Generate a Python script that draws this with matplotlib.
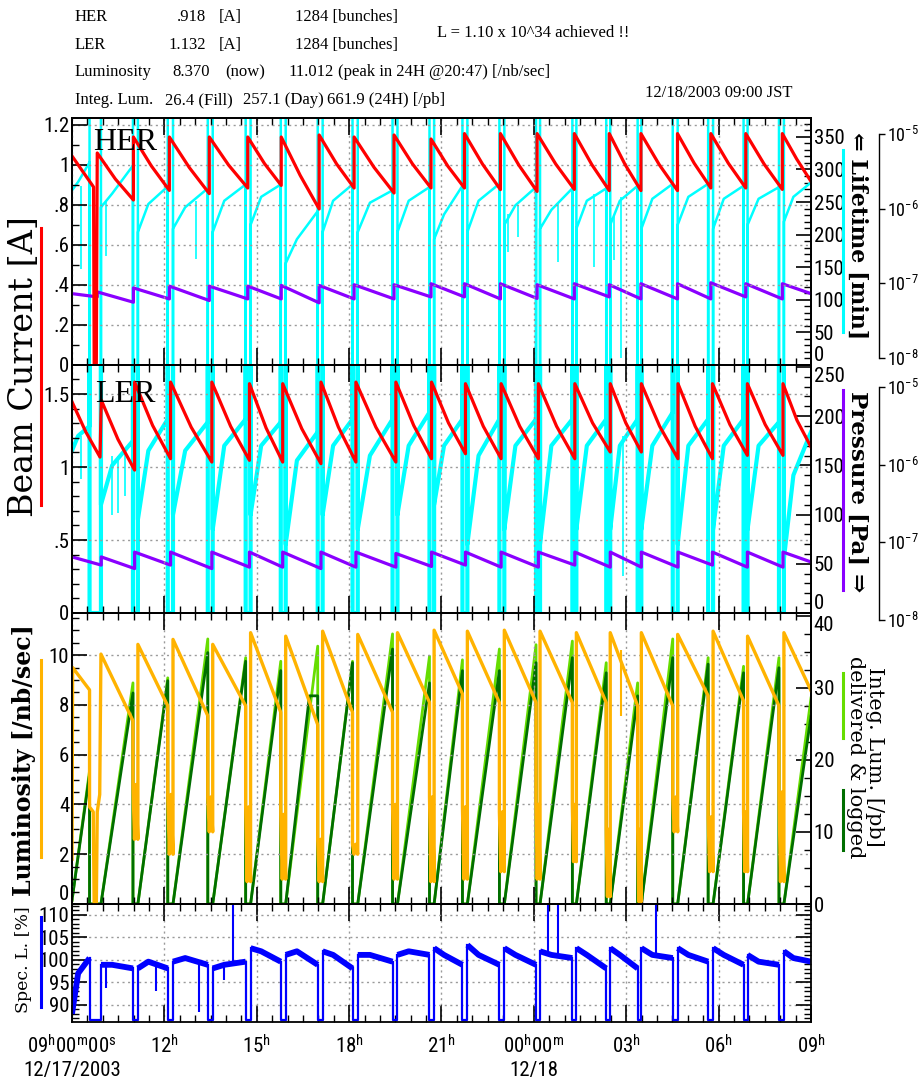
import matplotlib
matplotlib.use("Agg")
import bisect
import matplotlib.pyplot as plt
from matplotlib import font_manager
from matplotlib.lines import Line2D
from matplotlib.ticker import MultipleLocator, NullLocator

# ---------------- data (hours after 09:00 12/17/2003) ----------------
GAP_START = [0.57, 1.98, 3.11, 4.41, 5.64, 6.78, 7.98, 9.11, 10.41, 11.61, 12.68,
             13.88, 15.07, 16.25, 17.35, 18.37, 19.51, 20.66, 21.81, 22.96]
GAP_END = [0.94, 2.14, 3.28, 4.57, 5.80, 6.94, 8.14, 9.28, 10.57, 11.76, 12.84,
           14.04, 15.20, 16.38, 17.48, 18.49, 19.67, 20.82, 21.94, 23.12]

# HER beam current [A]
HER_PRE_T = [0.0, 0.70, 0.72, 0.79]
HER_PRE_A = [1.045, 0.89, 0.0, 0.0]
HER_INJ = [0.82, 1.995, 3.162, 4.459, 5.708, 6.795, 8.027, 9.162, 10.459, 11.659,
           12.746, 13.914, 15.104, 16.314, 17.449, 18.477, 19.664, 20.747, 21.882, 23.069]
HER_PEAK = [1.06, 1.14, 1.14, 1.14, 1.14, 1.14, 1.15, 1.14, 1.15, 1.13,
            1.157, 1.157, 1.157, 1.157, 1.157, 1.157, 1.157, 1.157, 1.157, 1.157]
HER_MID = [0.93, 0.995, 0.987, 1.0, 1.007, 0.948, 1.005, 0.988, 1.005, 0.995,
           1.005, 1.0, 1.005, 1.002, 1.002, 1.002, 1.009, 1.009, 1.005, 1.03]
HER_LOW = [0.825, 0.873, 0.857, 0.885, 0.898, 0.78, 0.885, 0.86, 0.885, 0.885,
           0.877, 0.868, 0.878, 0.872, 0.872, 0.872, 0.885, 0.885, 0.878, 0.918]

# LER beam current [A]
LER_PRE_T = [0.0, 0.45, 0.91]
LER_PRE_A = [1.447, 1.24, 1.068]
LER_INJ = [0.95, 2.034, 3.201, 4.541, 5.763, 6.843, 8.085, 9.22, 10.518, 11.676,
           12.778, 13.936, 15.146, 16.33, 17.481, 18.49, 19.68, 20.799, 21.934, 23.09]
LER_PEAK = [1.459, 1.582, 1.582, 1.582, 1.571, 1.571, 1.582, 1.582, 1.582, 1.582,
            1.571, 1.571, 1.571, 1.571, 1.571, 1.571, 1.571, 1.571, 1.571, 1.571]
LER_MID = [1.19, 1.285, 1.273, 1.279, 1.268, 1.262, 1.273, 1.273, 1.285, 1.302,
           1.279, 1.279, 1.279, 1.302, 1.302, 1.279, 1.279, 1.291, 1.291, 1.32]
LER_LOW = [0.979, 1.057, 1.034, 1.046, 1.034, 1.023, 1.034, 1.034, 1.057, 1.091,
           1.057, 1.057, 1.057, 1.103, 1.103, 1.057, 1.057, 1.08, 1.08, 1.137]

# Pressure [Pa]
HER_P_PRE_T = [0.0, 0.82]
HER_P_PRE = [7.3e-8, 6.6e-8]
HER_P_PEAK = [7.7e-8, 8.7e-8, 9.2e-8, 9.2e-8, 9.2e-8, 9.4e-8, 9.4e-8, 9.6e-8, 9.6e-8, 9.9e-8,
              9.9e-8, 9.9e-8, 9.6e-8, 9.9e-8, 9.6e-8, 9.9e-8, 9.9e-8, 1.02e-7, 9.9e-8, 9.9e-8]
HER_P_LOW = [5.6e-8, 6.2e-8, 5.9e-8, 6.2e-8, 6.2e-8, 5.5e-8, 6.2e-8, 6.2e-8, 6.6e-8, 6.6e-8,
             6.2e-8, 6.3e-8, 6.2e-8, 6.6e-8, 6.2e-8, 6.2e-8, 6.2e-8, 6.6e-8, 6.2e-8, 7.3e-8]
LER_P_PRE_T = [0.0, 0.95]
LER_P_PRE = [6.5e-8, 5.1e-8]
LER_P_PEAK = [6.5e-8, 7.5e-8, 7.5e-8, 7.5e-8, 7.5e-8, 7.5e-8, 7.5e-8, 7.5e-8, 7.2e-8, 7.5e-8,
              7.5e-8, 7.5e-8, 7.5e-8, 7.5e-8, 7.5e-8, 7.5e-8, 7.5e-8, 7.5e-8, 7.5e-8, 7.5e-8]
LER_P_LOW = [4.6e-8, 5.1e-8, 4.6e-8, 4.8e-8, 4.8e-8, 4.6e-8, 4.8e-8, 4.8e-8, 4.9e-8, 5.1e-8,
             4.8e-8, 4.8e-8, 5.1e-8, 4.8e-8, 4.8e-8, 4.8e-8, 5.1e-8, 4.8e-8, 4.8e-8, 5.6e-8]

# Lifetime [min] per fill: start / mid / end
HER_LT_START = [268, 242, 204, 209, 204, 215, 156, 204, 204, 204, 193,
                204, 215, 209, 209, 215, 209, 215, 209, 215, 220]
HER_LT_MID = [281, 263, 247, 242, 252, 258, 193, 252, 249, 252, 231,
              252, 245, 238, 252, 252, 255, 258, 255, 255, 258]
HER_LT_END = [311, 306, 274, 271, 277, 277, 236, 277, 268, 273, 275,
              278, 273, 271, 271, 275, 278, 278, 275, 273, 280]
HER_LT_DIP_T = [0.30, 1.11, 4.03, 14.15, 14.48, 15.77, 16.96, 17.61, 17.83]
HER_LT_DIP_LO = [148, 168, 163, 173, 197, 158, 150, 161, 10]
HER_LT_DIP_HI = [274, 252, 252, 231, 245, 249, 263, 228, 258]

LER_LT_START = [165, 110, 95, 100, 85, 100, 70, 100, 85, 100, 110,
                70, 85, 70, 85, 85, 85, 70, 85, 85, 55]
LER_LT_MID = [180, 150, 165, 165, 170, 170, 155, 170, 160, 170, 170,
              160, 170, 170, 170, 170, 170, 170, 170, 170, 140]
LER_LT_END = [190, 175, 197, 194, 197, 194, 184, 197, 197, 204, 197,
              197, 197, 197, 197, 197, 204, 197, 197, 194, 184]
LER_LT_DIP_T = [0.30, 1.30, 1.49, 1.71, 17.88]
LER_LT_DIP_LO = [136, 100, 102, 119, 38]
LER_LT_DIP_HI = [180, 160, 160, 165, 180]

# Luminosity [/nb/sec]
LUM_FIRST_T = [0.0]
LUM_FIRST_V = [1.8]
LUM_START = [9.5, 10.04, 10.43, 10.63, 10.43, 10.9, 10.76, 10.96, 10.83, 10.9, 11.0,
             10.96, 11.0, 10.96, 10.9, 10.9, 10.9, 10.83, 10.96, 10.76, 10.9]
LUM_END = [8.6, 7.36, 7.96, 7.56, 7.96, 7.7, 7.2, 7.7, 7.7, 8.1, 8.44,
           8.09, 8.09, 8.09, 8.09, 7.96, 7.96, 8.36, 8.16, 7.96, 8.57]
LUM_GAP_A = [3.9, 4.8, 4.4, 4.3, 3.9, 3.6, 2.6, 2.4, 4.0, 4.3,
             3.9, 3.7, 4.0, 4.0, 3.0, 3.0, 4.3, 3.5, 3.7, 4.5]
LUM_GAP_B = [0.0, 2.6, 2.0, 2.9, 0.9, 1.0, 0.9, 2.0, 1.0, 0.9,
             1.0, 1.3, 1.0, 1.7, 0.3, 0.1, 2.9, 1.3, 1.3, 0.9]
LUM_ABORT_T = [0.69, 0.72, 0.79, 0.82, 0.90]
LUM_ABORT_V = [3.7, 0.0, 0.0, 3.7, 4.4]
LUM_DIP_T = [17.83]
LUM_DIP_LO = [7.56]
LUM_DIP_HI = [10.2]

# Integrated luminosity [/pb] at end of each fill
INT_FIRST = 0.5
INT_DEL_END = [18.5, 30.7, 31.4, 36.8, 34.2, 33.7, 35.8, 33.7, 37.5, 34.4, 33.9,
               35.4, 36.0, 36.5, 33.5, 30.7, 36.8, 34.2, 33.0, 34.2, 28.6]
INT_LOG_END = [18.0, 29.3, 31.0, 34.9, 33.7, 32.4, 28.9, 33.5, 35.4, 30.7, 32.4,
               32.4, 33.5, 34.2, 32.1, 28.9, 34.2, 33.3, 32.1, 32.8, 26.1]
INT_LOG_HOLD_T = 7.71
INT_LOG_HOLD_V = 28.9

# Specific luminosity [%]
SPEC_START = [88.0, 98.9, 98.1, 99.6, 98.1, 102.6, 101.1, 101.9, 101.1, 101.1, 102.6,
              103.3, 102.6, 101.9, 102.6, 102.6, 102.6, 102.6, 102.6, 101.1, 101.9]
SPEC_MID = [97.0, 98.9, 99.6, 100.4, 98.9, 101.9, 101.9, 101.1, 101.1, 101.9, 101.1,
            101.1, 101.1, 101.1, 101.1, 101.1, 101.1, 101.1, 101.1, 99.6, 100.4]
SPEC_END = [100.4, 98.1, 98.1, 98.9, 99.6, 99.6, 98.9, 98.1, 99.6, 101.1, 98.9,
            98.9, 98.9, 100.4, 98.1, 98.1, 100.4, 99.6, 98.9, 98.9, 99.6]
SPEC_FLOOR = 86.6
SPEC_SPIKE_T = [5.23, 15.45, 15.77, 18.96]
SPEC_SPIKE_LO = [99.5, 101.0, 101.0, 101.0]
SPEC_SPIKE_HI = 114.0
SPEC_DIP_T = [1.11, 2.73, 4.14, 4.95]
SPEC_DIP_LO = [93.7, 93.0, 88.5, 95.5]
SPEC_DIP_HI = [98.5, 99.0, 99.5, 98.5]

XTICK_LABELS = [r"$\mathregular{09^{h}00^{m}00^{s}}$" + "\n12/17/2003",
                r"$\mathregular{12^{h}}$", r"$\mathregular{15^{h}}$",
                r"$\mathregular{18^{h}}$", r"$\mathregular{21^{h}}$",
                r"$\mathregular{00^{h}00^{m}}$" + "\n12/18",
                r"$\mathregular{03^{h}}$", r"$\mathregular{06^{h}}$",
                r"$\mathregular{09^{h}}$"]

# ---------------- fonts ----------------
_names = {f.name for f in font_manager.fontManager.ttflist}


def pick(*cands):
    for c in cands:
        if c in _names:
            return c
    return "DejaVu Sans"


NARROW = pick("Liberation Sans Narrow", "Roboto Condensed", "DejaVu Sans")
SERIF = pick("Liberation Serif", "DejaVu Serif")
WSERIF = ["DejaVu Serif", "DejaVu Sans"]
plt.rcParams["font.family"] = [NARROW, "DejaVu Sans"]

# ---------------- builders ----------------
NF = len(GAP_START) + 1


def fill_span(k):
    s = 0.0 if k == 0 else GAP_END[k - 1]
    e = 24.0 if k == NF - 1 else GAP_START[k]
    return s, e


def build_inj(pre_t, pre_v, inj, peak, mid, low, t_end=24.0):
    t, v = list(pre_t), list(pre_v)
    for k, t0 in enumerate(inj):
        t1 = inj[k + 1] if k + 1 < len(inj) else t_end
        if k > 0:
            t.append(t0); v.append(low[k - 1])
        t.append(t0); v.append(peak[k])
        if mid is not None:
            t.append(0.5 * (t0 + t1)); v.append(mid[k])
    t.append(t_end); v.append(low[-1])
    return t, v


def build_lifetime(start, mid, end, top, flat_bottom):
    t, v = [], []
    for k in range(NF):
        s, e = fill_span(k)
        t += [s, s + 0.35 * (e - s), e]
        v += [start[k], mid[k], end[k]]
        if k < NF - 1:
            g0, g1 = GAP_START[k], GAP_END[k]
            t += [g0, g0, g1, g1]
            v += ([top, 0, 0, top] if flat_bottom else [0, top, top, 0])
    return t, v


def build_lum():
    t, v = list(LUM_FIRST_T), list(LUM_FIRST_V)
    for k in range(NF):
        s, e = fill_span(k)
        if k == 0:
            s = 0.02
        t += [s, e]
        v += [LUM_START[k], LUM_END[k]]
        if k < NF - 1:
            g0, g1 = GAP_START[k], GAP_END[k]
            if k == 0:
                t += [g0] + LUM_ABORT_T
                v += [LUM_GAP_A[0]] + LUM_ABORT_V
            else:
                gl = g1 - g0
                t += [g0, g0 + 0.3 * gl, g0 + 0.6 * gl, g1]
                v += [LUM_GAP_A[k], LUM_GAP_B[k], LUM_GAP_A[k], LUM_GAP_B[k]]
    return t, v


def build_int(end_vals):
    t, v = [], []
    for k in range(NF):
        s, e = fill_span(k)
        t += [s, e]
        v += [INT_FIRST if k == 0 else 0.0, end_vals[k]]
        if k < NF - 1:
            t += [GAP_START[k], GAP_END[k]]
            v += [0.0, 0.0]
    return t, v


def build_spec_parts():
    fills, gaps = [], []
    for k in range(NF):
        s, e = fill_span(k)
        fills.append(([s, s + 0.35 * (e - s), e], [SPEC_START[k], SPEC_MID[k], SPEC_END[k]]))
        if k < NF - 1:
            g0, g1 = GAP_START[k], GAP_END[k]
            gaps.append(([g0, g0, g1, g1],
                         [SPEC_END[k], SPEC_FLOOR, SPEC_FLOOR, SPEC_START[k + 1]]))
    return fills, gaps


# ---------------- figure ----------------
W, H = 920, 1087
fig = plt.figure(figsize=(W / 100, H / 100), dpi=100, facecolor="white")
XL, XR = 72, 811


def add_ax(top, bot, **kw):
    return fig.add_axes([XL / W, 1 - bot / H, (XR - XL) / W, (bot - top) / H], **kw)


ax1 = add_ax(118, 365)
ax2 = add_ax(365, 613, sharex=ax1)
ax3 = add_ax(613, 904, sharex=ax1)
ax4 = add_ax(904, 1022, sharex=ax1)
ax1r, ax1p = ax1.twinx(), ax1.twinx()
ax2r, ax2p = ax2.twinx(), ax2.twinx()
ax3r = ax3.twinx()

for a in (ax1, ax2, ax3, ax4, ax1r, ax1p, ax2r, ax2p, ax3r):
    a.patch.set_visible(False)
    for sp in a.spines.values():
        sp.set_linewidth(1.3)
for base, tw in ((ax1, ax1r), (ax2, ax2r), (ax3, ax3r)):
    tw.set_zorder(0)
    base.set_zorder(3)
ax1p.set_zorder(1)
ax2p.set_zorder(1)
ax1p.axis("off")
ax2p.axis("off")

ax1.set_xlim(0, 24)
ax1.xaxis.set_major_locator(MultipleLocator(3))
ax1.xaxis.set_minor_locator(MultipleLocator(0.5))

RED, CYAN, PURP = "#ff0000", "#00ffff", "#8a00ff"
ORNG, LGRN, DGRN, BLUE = "#ffb300", "#66dd00", "#006e00", "#0000ff"

# panel 1 HER
t, v = build_lifetime(HER_LT_START, HER_LT_MID, HER_LT_END, 420, False)
ax1r.plot(t, v, color=CYAN, lw=1.8)
ax1r.vlines(HER_LT_DIP_T, HER_LT_DIP_LO, HER_LT_DIP_HI, color=CYAN, lw=1.2)
t, v = build_inj(HER_P_PRE_T, HER_P_PRE, HER_INJ, HER_P_PEAK, None, HER_P_LOW)
ax1p.plot(t, v, color=PURP, lw=2.3)
t, v = build_inj(HER_PRE_T, HER_PRE_A, HER_INJ, HER_PEAK, HER_MID, HER_LOW)
ax1.plot(t, v, color=RED, lw=2.3)
ax1.set_ylim(0, 1.235)
ax1r.set_ylim(0, 379)
ax1p.set_yscale("log")
ax1p.set_ylim(10 ** -8.092, 10 ** -4.786)

# panel 2 LER
t, v = build_lifetime(LER_LT_START, LER_LT_MID, LER_LT_END, 300, True)
ax2r.plot(t, v, color=CYAN, lw=3.0)
ax2r.vlines(LER_LT_DIP_T, LER_LT_DIP_LO, LER_LT_DIP_HI, color=CYAN, lw=1.2)
t, v = build_inj(LER_P_PRE_T, LER_P_PRE, LER_INJ, LER_P_PEAK, None, LER_P_LOW)
ax2p.plot(t, v, color=PURP, lw=2.3)
t, v = build_inj(LER_PRE_T, LER_PRE_A, LER_INJ, LER_PEAK, LER_MID, LER_LOW)
ax2.plot(t, v, color=RED, lw=2.3)
ax2.set_ylim(0, 1.699)
ax2r.set_ylim(0, 252)
ax2p.set_yscale("log")
ax2p.set_ylim(10 ** -7.909, 10 ** -4.717)

# panel 3 luminosity
t, v = build_int(INT_DEL_END)
ax3r.plot(t, v, color=LGRN, lw=2.0)
t, v = build_int(INT_LOG_END)
i = bisect.bisect_right(t, INT_LOG_HOLD_T)
t.insert(i, INT_LOG_HOLD_T)
v.insert(i, INT_LOG_HOLD_V)
ax3r.plot(t, v, color=DGRN, lw=2.0)
t, v = build_lum()
ax3.plot(t, v, color=ORNG, lw=2.4)
ax3.vlines(LUM_DIP_T, LUM_DIP_LO, LUM_DIP_HI, color=ORNG, lw=1.5)
ax3.set_ylim(0, 11.69)
ax3r.set_ylim(0, 40.4)

# panel 4 spec. lum.
fills, gaps = build_spec_parts()
for ft, fv in fills:
    ax4.plot(ft, fv, color=BLUE, lw=4.2, solid_capstyle="butt")
for gt, gv in gaps:
    ax4.plot(gt, gv, color=BLUE, lw=1.6)
ax4.vlines(SPEC_SPIKE_T, SPEC_SPIKE_LO, SPEC_SPIKE_HI, color=BLUE, lw=1.5)
ax4.vlines(SPEC_DIP_T, SPEC_DIP_LO, SPEC_DIP_HI, color=BLUE, lw=1.5)
ax4.set_ylim(86.2, 112.4)

# ---------------- ticks & grids ----------------
GRID = dict(color="#9a9a9a", ls=(0, (1.5, 2.5)), lw=1.0)
for a in (ax1, ax2, ax3, ax4):
    a.tick_params(axis="x", which="both", direction="in", top=True, bottom=True,
                  labelbottom=False)
    a.tick_params(axis="x", which="major", length=12, width=1.2)
    a.tick_params(axis="x", which="minor", length=5, width=1.0)
    a.tick_params(axis="y", which="both", direction="in", left=True, right=False,
                  labelsize=15, pad=2)
    a.tick_params(axis="y", which="major", length=11, width=1.2)
    a.tick_params(axis="y", which="minor", length=5, width=1.0)
    a.grid(True, which="major", **GRID)
    a.set_axisbelow(True)

ax1.set_yticks([0, 0.2, 0.4, 0.6, 0.8, 1.0, 1.2], ["0", ".2", ".4", ".6", ".8", "1", "1.2"])
ax1.yaxis.set_minor_locator(MultipleLocator(0.1))
ax2.set_yticks([0, 0.5, 1.0, 1.5], ["0", ".5", "1", "1.5"])
ax2.yaxis.set_minor_locator(MultipleLocator(0.1))
ax3.set_yticks([0, 2, 4, 6, 8, 10], ["0", "2", "4", "6", "8", "10"])
ax3.yaxis.set_minor_locator(MultipleLocator(0.5))
ax4.set_yticks([90, 95, 100, 105, 110])
ax4.yaxis.set_minor_locator(MultipleLocator(1))
ax4.tick_params(axis="y", which="both", right=True, labelright=False)

for tw, ticks, mnr in ((ax1r, list(range(0, 351, 50)), 10),
                       (ax2r, list(range(0, 251, 50)), 10),
                       (ax3r, [0, 10, 20, 30, 40], 2.5)):
    tw.set_yticks(ticks)
    tw.yaxis.set_minor_locator(MultipleLocator(mnr))
    tw.tick_params(axis="y", which="both", direction="in", right=True, left=False,
                   labelsize=15, pad=2)
    tw.tick_params(axis="y", which="major", length=11, width=1.2)
    tw.tick_params(axis="y", which="minor", length=5, width=1.0)

ax4.set_xticks(list(range(0, 25, 3)), XTICK_LABELS)
ax4.tick_params(axis="x", labelbottom=True, labelsize=15, pad=9)
ax1.set_xlim(0, 24)


def label_va(ax, idx, va):
    tk = ax.yaxis.get_major_ticks()[idx]
    tk.label1.set_va(va)
    tk.label2.set_va(va)


# keep edge labels of stacked panels from colliding
label_va(ax1r, 0, "bottom")
label_va(ax2r, -1, "top")
label_va(ax2r, 0, "bottom")
label_va(ax3r, -1, "top")
label_va(ax3, 0, "bottom")

# far-right log pressure scales
LOGLAB = [r"$\mathregular{10^{-8}}$", r"$\mathregular{10^{-7}}$",
          r"$\mathregular{10^{-6}}$", r"$\mathregular{10^{-5}}$"]
for top, bot in ((134, 358), (387, 620)):
    la = fig.add_axes([878 / W, 1 - bot / H, 1.0 / W, (bot - top) / H])
    la.patch.set_visible(False)
    for s in ("left", "top", "bottom"):
        la.spines[s].set_visible(False)
    la.spines["right"].set_linewidth(1.0)
    la.set_yscale("log")
    la.set_ylim(1e-8, 1e-5)
    la.set_xticks([])
    la.yaxis.tick_right()
    la.set_yticks([1e-8, 1e-7, 1e-6, 1e-5], LOGLAB)
    la.yaxis.set_minor_locator(NullLocator())
    la.tick_params(axis="y", direction="out", length=4, width=1.0, labelsize=13, pad=2)

# ---------------- text ----------------
def ftext(x, y, s, **kw):
    return fig.text(x / W, 1 - y / H, s, **kw)


HDR = dict(family=[SERIF, "DejaVu Serif"], fontsize=12, va="center")
ftext(75, 17, "HER", ha="left", **HDR)
ftext(206, 17, ".918", ha="right", **HDR)
ftext(219, 17, "[A]", ha="left", **HDR)
ftext(295, 17, "1284 [bunches]", ha="left", **HDR)
ftext(75, 45, "LER", ha="left", **HDR)
ftext(206, 45, "1.132", ha="right", **HDR)
ftext(219, 45, "[A]", ha="left", **HDR)
ftext(295, 45, "1284 [bunches]", ha="left", **HDR)
ftext(437, 33, "L = 1.10 x 10^34 achieved !!", ha="left", **HDR)
ftext(75, 72, "Luminosity", ha="left", **HDR)
ftext(172, 72, "8.370", ha="left", **HDR)
ftext(225, 72, "(now)", ha="left", **HDR)
ftext(288, 72, "11.012", ha="left", **HDR)
ftext(338, 72, "(peak in 24H @20:47) [/nb/sec]", ha="left", **HDR)
ftext(75, 100, "Integ. Lum.", ha="left", **HDR)
ftext(165, 100, "26.4 (Fill)", ha="left", **HDR)
ftext(243, 100, "257.1 (Day)", ha="left", **HDR)
ftext(327, 100, "661.9 (24H) [/pb]", ha="left", **HDR)
ftext(645, 93, "12/18/2003 09:00 JST", ha="left", **HDR)

ftext(93, 143, "HER", ha="left", va="center", family=[SERIF, "DejaVu Serif"], fontsize=23)
ftext(95, 395, "LER", ha="left", va="center", family=[SERIF, "DejaVu Serif"], fontsize=23)

ftext(24, 367, "Beam Current [A]", rotation=90, ha="center", va="center",
      family=WSERIF, fontsize=24)
ftext(24, 760, "Luminosity [/nb/sec]", rotation=90, ha="center", va="center",
      family=WSERIF, fontsize=17, fontweight="bold")
ftext(24, 960, "Spec. L. [%]", rotation=90, ha="center", va="center",
      family=WSERIF, fontsize=12.5)
ftext(857, 236, "\u21d0 Lifetime [min]", rotation=270, ha="center", va="center",
      family=WSERIF, fontsize=16, fontweight="bold")
ftext(857, 492, "Pressure [Pa] \u21d2", rotation=270, ha="center", va="center",
      family=WSERIF, fontsize=16.5, fontweight="bold")
ftext(865, 757, "Integ. Lum. [/pb]\ndelivered & logged", rotation=270, ha="center",
      va="center", multialignment="center", family=WSERIF, fontsize=15, linespacing=1.0)


def bar(x, y0, y1, color, lw=2.2):
    fig.add_artist(Line2D([x / W, x / W], [1 - y0 / H, 1 - y1 / H],
                          transform=fig.transFigure, color=color, lw=lw))


bar(41, 228, 505, RED)
bar(41, 660, 857, ORNG)
bar(41, 917, 1007, BLUE)
bar(843, 150, 332, CYAN)
bar(843, 390, 590, PURP)
bar(843, 673, 738, LGRN)
bar(843, 790, 850, DGRN)

fig.savefig("out.png", dpi=100, facecolor="white")
